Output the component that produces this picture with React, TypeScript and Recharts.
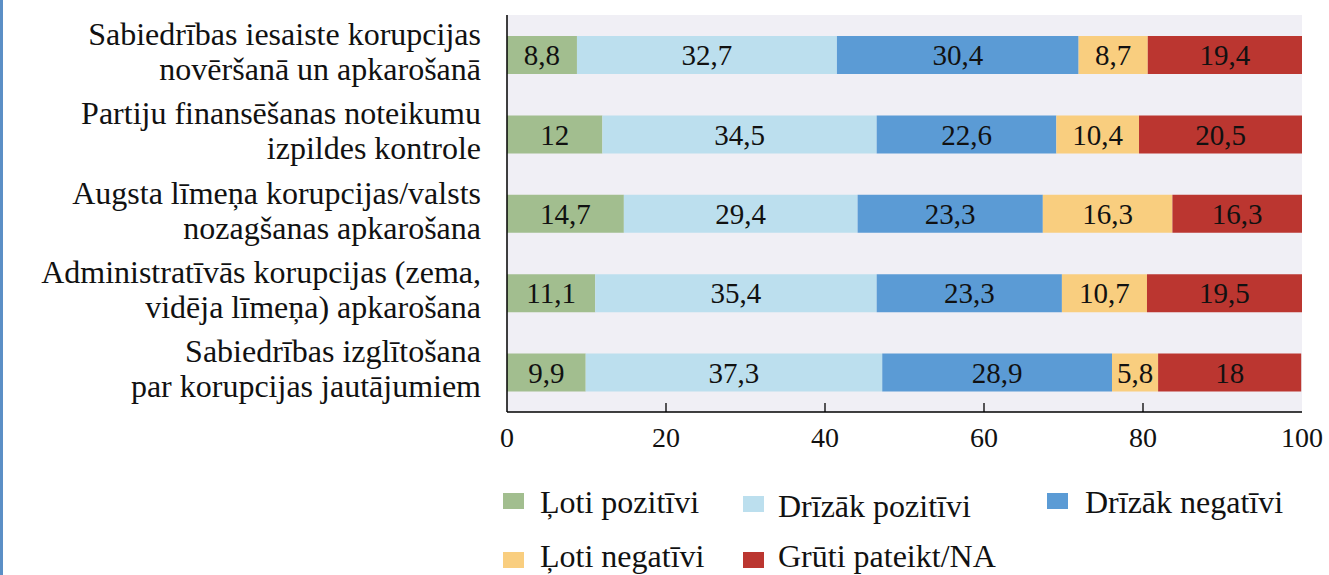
import { BarChart, Bar, XAxis, YAxis, CartesianGrid, LabelList } from "recharts";

// kategorijas (rindas no augšas uz leju), "\n" = rindas pārnesums
const categories = [
  "Sabiedrības iesaiste korupcijas\nnovēršanā un apkarošanā",
  "Partiju finansēšanas noteikumu\nizpildes kontrole",
  "Augsta līmeņa korupcijas/valsts\nnozagšanas apkarošana",
  "Administratīvās korupcijas (zema,\nvidēja līmeņa) apkarošana",
  "Sabiedrības izglītošana\npar korupcijas jautājumiem",
];

const seriesNames = [
  "Ļoti pozitīvi",
  "Drīzāk pozitīvi",
  "Drīzāk negatīvi",
  "Ļoti negatīvi",
  "Grūti pateikt/NA",
];

const lotiPozitivi = [8.8, 12, 14.7, 11.1, 9.9];
const drizakPozitivi = [32.7, 34.5, 29.4, 35.4, 37.3];
const drizakNegativi = [30.4, 22.6, 23.3, 23.3, 28.9];
const lotiNegativi = [8.7, 10.4, 16.3, 10.7, 5.8];
const grutiPateikt = [19.4, 20.5, 16.3, 19.5, 18];

const xTicks = [0, 20, 40, 60, 80, 100];

const COLORS = ["#a2be8f", "#bcdfee", "#5b9bd5", "#f9ce7f", "#bb3630"];
const FONT = "'Liberation Serif', 'DejaVu Serif', serif";

const seriesValues = [lotiPozitivi, drizakPozitivi, drizakNegativi, lotiNegativi, grutiPateikt];
const keys = ["s0", "s1", "s2", "s3", "s4"];

const data = categories.map((name, i) => {
  const row: Record<string, string | number> = { name };
  keys.forEach((k, j) => {
    row[k] = seriesValues[j][i];
  });
  return row;
});

const fmt = (v: any) => String(v).replace(".", ",");

// Y ass: divrindu etiķetes
function CategoryTick(props: any) {
  const { x, y, payload } = props;
  const lines = String(payload.value).split("\n");
  return (
    <text x={x} y={y} textAnchor="end" fill="#111" fontSize={32} fontFamily={FONT}>
      <tspan x={x} y={y - 10}>{lines[0]}</tspan>
      <tspan x={x} y={y + 25}>{lines[1]}</tspan>
    </text>
  );
}

// X ass: iekšējās atzīmes + skaitlis
function ValueTick(props: any) {
  const { x, y, payload } = props;
  const v = payload.value;
  return (
    <g>
      {v > 0 && v < 100 && <line x1={x} x2={x} y1={y - 9} y2={y} stroke="#000" strokeWidth={1.3} />}
      <text x={x} y={y + 35} textAnchor="middle" fill="#111" fontSize={28} fontFamily={FONT}>
        {v}
      </text>
    </g>
  );
}

function LegendBox() {
  // izkārtojums kā oriģinālā: 3 + 2 elementi
  const pos = [
    { x: 503, y: 493, tx: 540, base: 513 },
    { x: 743, y: 496, tx: 778, base: 517 },
    { x: 1047, y: 493, tx: 1085, base: 513 },
    { x: 503, y: 552, tx: 540, base: 567 },
    { x: 743, y: 552, tx: 778, base: 567 },
  ];
  return (
    <svg width={1329} height={575} style={{ position: "absolute", left: 0, top: 0, pointerEvents: "none" }}>
      {seriesNames.map((n, i) => (
        <g key={n}>
          <rect x={pos[i].x} y={pos[i].y} width={21} height={16} fill={COLORS[i]} />
          <text x={pos[i].tx} y={pos[i].base} fill="#111" fontSize={32} fontFamily={FONT}>
            {n}
          </text>
        </g>
      ))}
    </svg>
  );
}

export default function App() {
  return (
    <div
      style={{
        position: "absolute",
        left: 0,
        top: 0,
        width: 1329,
        height: 575,
        background: "#fff",
        overflow: "hidden",
      }}
    >
      <div style={{ position: "absolute", left: 0, top: 0, width: 3, height: 575, background: "#5b8fc6" }} />
      <BarChart
        width={1329}
        height={575}
        layout="vertical"
        data={data}
        margin={{ top: 15, right: 27, left: 0, bottom: 113 }}
        barSize={38}
      >
        <CartesianGrid horizontal={false} vertical={false} fill="#f0eff5" />
        <XAxis
          type="number"
          domain={[0, 100]}
          ticks={xTicks}
          tickLine={false}
          tickSize={0}
          tickMargin={0}
          height={50}
          axisLine={{ stroke: "#000", strokeWidth: 1.5 }}
          tick={<ValueTick />}
          interval={0}
        />
        <XAxis
          xAxisId="top"
          orientation="top"
          type="number"
          domain={[0, 100]}
          tick={false}
          tickLine={false}
          height={0}
          axisLine={{ stroke: "#000", strokeWidth: 1.5 }}
        />
        <YAxis
          type="category"
          dataKey="name"
          width={507}
          tickLine={false}
          tickSize={0}
          tickMargin={26}
          axisLine={{ stroke: "#000", strokeWidth: 1.5 }}
          tick={<CategoryTick />}
          interval={0}
        />
        <YAxis
          yAxisId="right"
          orientation="right"
          type="category"
          dataKey="name"
          width={0}
          tick={false}
          tickLine={false}
          axisLine={{ stroke: "#000", strokeWidth: 1.5 }}
        />
        {keys.map((k, i) => (
          <Bar key={k} dataKey={k} name={seriesNames[i]} stackId="a" fill={COLORS[i]} isAnimationActive={false}>
            <LabelList
              dataKey={k}
              position="center"
              formatter={fmt}
              fill="#111"
              fontSize={29}
              fontFamily={FONT}
            />
          </Bar>
        ))}
      </BarChart>
      <LegendBox />
    </div>
  );
}
